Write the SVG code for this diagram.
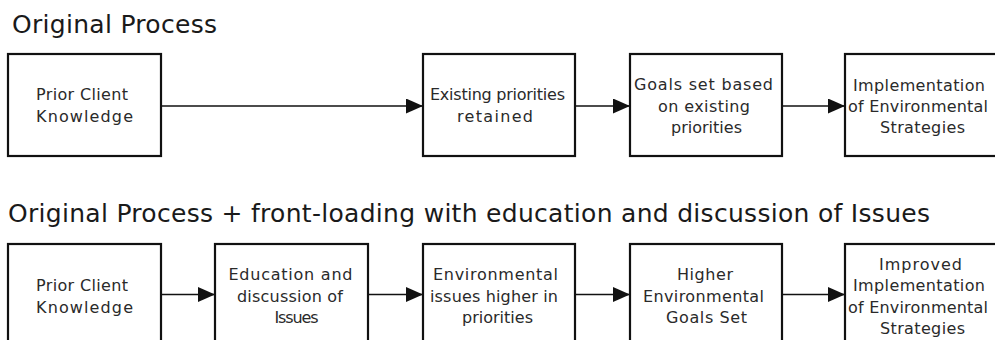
<svg xmlns="http://www.w3.org/2000/svg" width="995" height="340" viewBox="0 0 995 340">
<style>
.box{fill:#fff;stroke:#111;stroke-width:2.2}
.t{font-family:"DejaVu Sans","Liberation Sans",sans-serif;font-size:16px;fill:#2a2a2a;text-anchor:middle}
.title{font-family:"DejaVu Sans","Liberation Sans",sans-serif;font-size:25px;fill:#1a1a1a}
.c{stroke:#111;stroke-width:1.6;fill:none;marker-end:url(#ah)}
</style>
<defs>
<marker id="ah" markerUnits="userSpaceOnUse" markerWidth="18" markerHeight="16" refX="17" refY="7.5" orient="auto">
<path d="M0,0 L17,7.5 L0,15 Z" fill="#111"/>
</marker>
</defs>
<rect width="995" height="340" fill="#fff"/>
<text class="title" x="12" y="33" textLength="205" lengthAdjust="spacing">Original Process</text>
<text class="title" x="8" y="222" textLength="922" lengthAdjust="spacing">Original Process + front-loading with education and discussion of Issues</text>

<g id="connectors">
<line class="c" x1="161" y1="106" x2="423" y2="106"/>
<line class="c" x1="575" y1="106" x2="630" y2="106"/>
<line class="c" x1="782" y1="106" x2="845" y2="106"/>
<line class="c" x1="161" y1="294.5" x2="215" y2="294.5"/>
<line class="c" x1="368" y1="294.5" x2="423" y2="294.5"/>
<line class="c" x1="575" y1="294.5" x2="630" y2="294.5"/>
<line class="c" x1="782" y1="294.5" x2="845" y2="294.5"/>
</g>

<g id="top1">
<rect class="box" x="8" y="54" width="153" height="102"/>
<text class="t" x="82" y="100" textLength="92" lengthAdjust="spacing">Prior Client</text>
<text class="t" x="84.5" y="122" textLength="97" lengthAdjust="spacing">Knowledge</text>
</g>
<g id="top2">
<rect class="box" x="423" y="54" width="152" height="102"/>
<text class="t" x="497.5" y="100" textLength="135" lengthAdjust="spacing">Existing priorities</text>
<text class="t" x="495" y="122" textLength="76" lengthAdjust="spacing">retained</text>
</g>
<g id="top3">
<rect class="box" x="630" y="54" width="152" height="102"/>
<text class="t" x="703.5" y="90" textLength="139" lengthAdjust="spacing">Goals set based</text>
<text class="t" x="704" y="112" textLength="92" lengthAdjust="spacing">on existing</text>
<text class="t" x="706.5" y="133" textLength="71" lengthAdjust="spacing">priorities</text>
</g>
<g id="top4">
<rect class="box" x="845" y="54" width="152" height="102"/>
<text class="t" x="919" y="91" textLength="132" lengthAdjust="spacing">Implementation</text>
<text class="t" x="918" y="112" textLength="140" lengthAdjust="spacing">of Environmental</text>
<text class="t" x="922.5" y="133" textLength="85" lengthAdjust="spacing">Strategies</text>
</g>

<g id="bot1">
<rect class="box" x="8" y="244" width="153" height="102"/>
<text class="t" x="82" y="291" textLength="92" lengthAdjust="spacing">Prior Client</text>
<text class="t" x="84.5" y="313" textLength="97" lengthAdjust="spacing">Knowledge</text>
</g>
<g id="bot2">
<rect class="box" x="215" y="244" width="153" height="102"/>
<text class="t" x="290.5" y="280" textLength="124" lengthAdjust="spacing">Education and</text>
<text class="t" x="290" y="302" textLength="106" lengthAdjust="spacing">discussion of</text>
<text class="t" x="296.5" y="323" textLength="44" lengthAdjust="spacing">Issues</text>
</g>
<g id="bot3">
<rect class="box" x="423" y="244" width="152" height="102"/>
<text class="t" x="495.5" y="280" textLength="125" lengthAdjust="spacing">Environmental</text>
<text class="t" x="494" y="302" textLength="128" lengthAdjust="spacing">issues higher in</text>
<text class="t" x="497.5" y="323" textLength="71" lengthAdjust="spacing">priorities</text>
</g>
<g id="bot4">
<rect class="box" x="630" y="244" width="152" height="102"/>
<text class="t" x="705" y="280" textLength="56" lengthAdjust="spacing">Higher</text>
<text class="t" x="703.5" y="302" textLength="121" lengthAdjust="spacing">Environmental</text>
<text class="t" x="706.5" y="323" textLength="81" lengthAdjust="spacing">Goals Set</text>
</g>
<g id="bot5">
<rect class="box" x="845" y="244" width="152" height="102"/>
<text class="t" x="920.5" y="270" textLength="83" lengthAdjust="spacing">Improved</text>
<text class="t" x="919" y="291" textLength="132" lengthAdjust="spacing">Implementation</text>
<text class="t" x="918" y="312.5" textLength="140" lengthAdjust="spacing">of Environmental</text>
<text class="t" x="922.5" y="334" textLength="85" lengthAdjust="spacing">Strategies</text>
</g>
</svg>
